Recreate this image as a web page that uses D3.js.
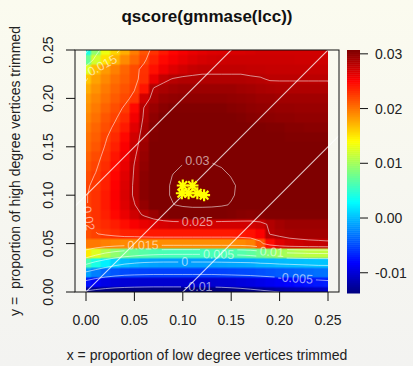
<!DOCTYPE html>
<html>
<head>
<meta charset="utf-8">
<script src="https://cdn.jsdelivr.net/npm/d3@7/dist/d3.min.js"></script>
<style>
  html, body { margin: 0; padding: 0; }
  body { width: 413px; height: 366px; overflow: hidden;
         background: linear-gradient(#fbfbef, #f3f3f1); }
  svg { display: block; font-family: "Liberation Sans", Arial, sans-serif; }
</style>
</head>
<body>
<svg id="chart" width="413" height="366"></svg>
<script>
// trimming proportions of the grid
const xs = [0.00, 0.01, 0.02, 0.03, 0.04, 0.05, 0.06, 0.07, 0.08, 0.09, 0.10, 0.11, 0.12,
            0.13, 0.14, 0.15, 0.16, 0.17, 0.18, 0.19, 0.20, 0.21, 0.22, 0.23, 0.24, 0.25];
const ys = [0.00, 0.01, 0.02, 0.03, 0.04, 0.05, 0.06, 0.07, 0.08, 0.09, 0.10, 0.11, 0.12,
            0.13, 0.14, 0.15, 0.16, 0.17, 0.18, 0.19, 0.20, 0.21, 0.22, 0.23, 0.24, 0.25];

// qscore in units of 1e-3, one row per y (y = 0 first), one column per x
const qscore = [
  [-10.5,-11.0,-11.3,-11.5,-11.6,-11.7,-11.7,-11.8,-11.8,-11.8,-11.8,-11.8,-11.8,-11.7,-11.6,-11.4,-11.2,-10.9,-10.6,-10.3,-10.0,-9.7,-9.4,-9.1,-8.9,-8.7],
  [-6.0,-7.0,-7.6,-8.0,-8.2,-8.3,-8.4,-8.4,-8.4,-8.4,-8.4,-8.4,-8.4,-8.4,-8.3,-8.2,-8.0,-7.8,-7.5,-7.2,-6.9,-6.6,-6.3,-6.0,-5.8,-5.6],
  [-0.5,-1.8,-2.8,-3.4,-3.8,-4.0,-4.1,-4.2,-4.2,-4.2,-4.2,-4.2,-4.2,-4.2,-4.1,-4.0,-3.9,-3.8,-3.6,-3.4,-3.2,-3.0,-2.8,-2.6,-2.4,-2.3],
  [6.0,4.0,2.5,1.3,0.5,0.1,-0.3,-0.5,-0.6,-0.6,-0.6,-0.6,-0.6,-0.6,-0.5,-0.4,-0.3,-0.2,0.1,0.2,0.4,0.5,0.6,0.7,0.8,0.8],
  [13.5,11.5,9.8,8.5,7.5,6.8,6.3,6.0,5.8,5.7,5.7,5.7,5.7,5.8,5.9,6.0,6.2,6.6,7.3,8.2,9.1,9.5,9.8,10.1,10.2,10.3],
  [17.8,17.8,17.5,17.3,17.1,17.0,17.0,17.0,17.0,17.0,17.0,17.0,17.0,17.0,17.0,17.0,17.1,17.5,19.1,22.0,23.5,24.1,24.3,24.5,24.6,24.7],
  [19.4,19.9,20.3,20.7,21.1,21.2,21.4,21.5,21.5,21.5,21.5,21.5,21.5,21.5,21.5,21.5,21.6,21.8,22.5,25.1,25.5,25.7,25.8,25.8,25.8,25.8],
  [19.8,20.4,20.8,21.3,21.9,22.6,23.2,23.6,23.9,24.1,24.1,24.1,24.1,24.1,24.1,24.1,24.1,24.1,24.4,25.3,25.8,26.1,26.1,26.1,26.1,26.1],
  [19.9,20.5,21.2,22.1,23.1,24.2,25.3,26.2,26.9,27.3,27.5,27.6,27.6,27.5,27.3,27.1,26.9,26.8,26.9,27.1,27.1,27.1,27.1,27.1,27.1,27.1],
  [19.9,20.5,21.4,22.4,23.6,24.9,26.4,27.6,28.8,29.9,30.5,30.8,30.8,30.7,30.4,29.8,29.1,28.3,28.1,28.1,28.1,28.0,28.0,27.9,27.9,27.9],
  [19.9,20.5,21.4,22.5,23.8,25.3,26.8,28.1,29.3,30.4,31.1,31.4,31.4,31.3,31.1,30.3,29.4,28.7,28.5,28.5,28.4,28.3,28.3,28.2,28.2,28.2],
  [19.8,20.3,21.2,22.4,23.7,25.3,26.8,28.1,29.3,30.4,31.1,31.4,31.4,31.3,31.1,30.4,29.5,28.8,28.6,28.5,28.4,28.3,28.3,28.3,28.3,28.3],
  [19.5,20.1,21.1,22.2,23.5,25.2,26.7,28.1,29.1,30.1,30.7,31.1,31.1,30.9,30.6,29.9,29.2,28.7,28.5,28.4,28.3,28.2,28.2,28.2,28.2,28.2],
  [19.1,19.8,20.7,21.9,23.2,25.1,26.5,27.8,28.8,29.6,30.1,30.3,30.3,30.2,29.9,29.4,28.8,28.5,28.3,28.2,28.1,28.0,28.0,27.9,27.9,27.9],
  [18.7,19.5,20.4,21.6,22.9,24.8,26.3,27.5,28.4,29.1,29.5,29.7,29.7,29.6,29.3,28.9,28.5,28.2,28.0,27.9,27.8,27.7,27.7,27.6,27.6,27.6],
  [18.3,19.1,20.1,21.2,22.5,24.4,26.1,27.2,28.1,28.6,29.1,29.2,29.2,29.1,28.9,28.5,28.1,27.9,27.7,27.6,27.5,27.4,27.4,27.3,27.3,27.3],
  [18.1,18.8,19.8,20.8,22.1,24.1,25.8,27.1,27.8,28.3,28.6,28.8,28.8,28.7,28.5,28.2,27.9,27.6,27.4,27.3,27.2,27.1,27.1,27.1,27.1,27.1],
  [17.7,18.5,19.4,20.3,21.4,23.5,25.6,26.9,27.6,28.1,28.2,28.3,28.3,28.2,28.1,27.8,27.6,27.4,27.2,27.1,27.1,26.9,26.9,26.8,26.8,26.8],
  [17.3,18.1,19.1,19.8,20.8,22.8,25.3,26.6,27.2,27.5,27.6,27.7,27.7,27.6,27.5,27.3,27.1,26.9,26.8,26.7,26.6,26.6,26.5,26.5,26.5,26.5],
  [16.9,17.7,18.6,19.4,20.2,22.1,25.1,26.2,26.8,27.1,27.1,27.1,27.1,27.1,27.1,26.9,26.8,26.6,26.5,26.4,26.3,26.3,26.2,26.2,26.2,26.2],
  [16.5,17.3,18.1,18.9,19.6,20.4,24.1,25.6,26.3,26.5,26.6,26.6,26.6,26.6,26.6,26.5,26.4,26.3,26.1,26.1,25.9,25.9,25.9,25.9,25.9,25.9],
  [15.8,16.8,17.7,18.5,19.2,19.9,21.6,25.2,25.6,25.9,26.1,26.1,26.1,26.1,26.1,26.1,25.9,25.8,25.6,25.5,25.4,25.4,25.4,25.4,25.4,25.4],
  [14.8,16.2,17.2,18.1,18.8,19.6,20.6,23.1,24.6,25.1,25.3,25.3,25.3,25.3,25.3,25.3,25.3,25.2,25.1,24.9,24.9,24.9,24.9,24.9,24.9,24.9],
  [11.5,15.1,16.5,17.5,18.5,19.5,20.5,21.8,22.9,23.6,24.1,24.5,24.7,24.7,24.7,24.7,24.7,24.6,24.6,24.5,24.5,24.5,24.5,24.5,24.5,24.5],
  [7.0,11.0,13.8,15.6,17.1,18.4,19.7,21.1,22.1,22.7,23.2,23.6,23.9,24.1,24.2,24.3,24.3,24.3,24.3,24.3,24.3,24.3,24.2,24.2,24.2,24.2],
  [4.0,8.5,12.1,14.3,15.8,17.6,19.2,20.5,21.5,22.2,22.7,23.1,23.4,23.6,23.7,23.8,23.8,23.9,24.1,24.1,24.1,24.1,24.1,24.1,24.1,24.1]
];

const levels = [-0.01, -0.005, 0, 0.005, 0.01, 0.015, 0.02, 0.025, 0.03];
const xTicks = [0, 0.05, 0.10, 0.15, 0.20, 0.25];
const yTicks = [0, 0.05, 0.10, 0.15, 0.20, 0.25];
const keyTicks = [-0.01, 0.00, 0.01, 0.02, 0.03];
const keyRange = [-0.0137, 0.0307];
const heatRange = [-0.0115, 0.0272];
const diagIntercepts = [-0.1, 0, 0.1];

// best (x, y) pairs, drawn as yellow stars
const bestX = [0.100, 0.110, 0.099, 0.106, 0.115, 0.122];
const bestY = [0.110, 0.110, 0.102, 0.102, 0.102, 0.100];

// where each contour label sits: level, x, y
const labelSpots = [
  [0.03, 0.115, 0.131], [0.025, 0.115, 0.074], [0.02, 0.002, 0.076],
  [0.015, 0.020, 0.228], [0.015, 0.059, 0.046], [0.01, 0.192, 0.042],
  [0.005, 0.137, 0.040], [0, 0.102, 0.032], [-0.005, 0.216, 0.012],
  [-0.01, 0.116, 0.004]
];

const jet = ["#00007F", "#0000FF", "#007FFF", "#00FFFF", "#7FFF7F",
             "#FFFF00", "#FF7F00", "#FF0000", "#7F0000"];

const box = {left: 75, right: 339, top: 50, bottom: 292};
const x = d3.scaleLinear().domain([0, 0.25]).range([86, 328]);
const y = d3.scaleLinear().domain([0, 0.25]).range([292, 50]);
const key = d3.scaleLinear().domain(keyRange).range([293, 50]);
const jetScale = range => d3.scaleLinear()
    .domain(jet.map((_, i) => range[0] + i * (range[1] - range[0]) / (jet.length - 1)))
    .range(jet).clamp(true);
const color = jetScale(keyRange);
const heatColor = jetScale(heatRange);
const fmt = v => d3.format(".2f")(v).replace("\u2212", "-");

const svg = d3.select("#chart");
const defs = svg.append("defs");

defs.append("clipPath").attr("id", "heat-clip").append("rect")
    .attr("x", x(0)).attr("y", y(0.25))
    .attr("width", x(0.25) - x(0)).attr("height", y(0) - y(0.25));
defs.append("clipPath").attr("id", "box-clip").append("rect")
    .attr("x", box.left).attr("y", box.top)
    .attr("width", box.right - box.left).attr("height", box.bottom - box.top);

// heat map: cells painted on a small canvas, stretched (smoothly) over the grid
const nx = xs.length, ny = ys.length;
const hx = (xs[1] - xs[0]) / 2, hy = (ys[1] - ys[0]) / 2;
const cell = 4;
const cv = document.createElement("canvas");
cv.width = nx * cell; cv.height = ny * cell;
const ctx = cv.getContext("2d");
qscore.forEach((row, j) => row.forEach((v, i) => {
  ctx.fillStyle = heatColor(v / 1000);
  ctx.fillRect(i * cell, (ny - 1 - j) * cell, cell, cell);
}));
svg.append("image")
    .attr("href", cv.toDataURL())
    .attr("x", x(xs[0] - hx)).attr("y", y(ys[ny - 1] + hy))
    .attr("width", x(xs[nx - 1] + hx) - x(xs[0] - hx))
    .attr("height", y(ys[0] - hy) - y(ys[ny - 1] + hy))
    .attr("preserveAspectRatio", "none")
    .attr("clip-path", "url(#heat-clip)");

// contour lines
const thresholds = levels.map(v => +(v * 1000).toFixed(1));
const bands = d3.contours().size([nx, ny]).thresholds(thresholds)(qscore.flat());
const gx = g => x(xs[0] + (g - 0.5) * (xs[1] - xs[0]));
const gy = g => y(ys[0] + (g - 0.5) * (ys[1] - ys[0]));
const rings = [];
bands.forEach(b => {
  const level = levels[thresholds.indexOf(b.value)];
  b.coordinates.forEach(poly => poly.forEach(ring => {
    rings.push({level, pts: ring.map(([a, c]) => [gx(a), gy(c)])});
  }));
});

const mask = defs.append("mask").attr("id", "label-gaps")
    .attr("maskUnits", "userSpaceOnUse")
    .attr("x", 0).attr("y", 0).attr("width", 413).attr("height", 366);
mask.append("rect").attr("width", 413).attr("height", 366).attr("fill", "white");

svg.append("g")
    .attr("clip-path", "url(#heat-clip)")
    .append("g")
    .attr("mask", "url(#label-gaps)")
    .attr("fill", "none")
    .attr("stroke", "rgba(255,255,255,0.55)")
    .attr("stroke-width", 1)
  .selectAll("path")
  .data(rings)
  .join("path")
    .attr("d", d => d3.line()(d.pts));

// contour labels, placed on the nearest piece of their line and turned with it
const inside = (p) => p[0] > x(0) + 1 && p[0] < x(0.25) - 1 && p[1] > y(0.25) + 1 && p[1] < y(0) - 1;
const labelG = svg.append("g")
    .attr("fill", "rgba(255,255,255,0.6)")
    .attr("font-size", 12.5)
    .attr("text-anchor", "middle")
    .attr("dominant-baseline", "central");
labelSpots.forEach(([level, lx, ly]) => {
  const t = [x(lx), y(ly)];
  let best = null;
  rings.filter(r => r.level === level).forEach(r => {
    for (let i = 0; i < r.pts.length - 1; i++) {
      const a = r.pts[i], b = r.pts[i + 1];
      const dx = b[0] - a[0], dy = b[1] - a[1];
      const L2 = dx * dx + dy * dy;
      if (!L2) continue;
      const u = Math.max(0, Math.min(1, ((t[0] - a[0]) * dx + (t[1] - a[1]) * dy) / L2));
      const p = [a[0] + u * dx, a[1] + u * dy];
      if (!inside(p)) continue;
      const d = Math.hypot(p[0] - t[0], p[1] - t[1]);
      if (!best || d < best.d) best = {d, p, ang: Math.atan2(dy, dx) * 180 / Math.PI};
    }
  });
  if (!best) return;
  let ang = best.ang;
  if (ang >= 90) ang -= 180;
  if (ang < -90) ang += 180;
  const tr = `translate(${best.p[0]},${best.p[1]}) rotate(${ang})`;
  const txt = labelG.append("text").attr("transform", tr).text(String(level));
  const w = txt.node().getComputedTextLength() + 6;
  mask.append("rect").attr("transform", tr)
      .attr("x", -w / 2).attr("y", -6).attr("width", w).attr("height", 12)
      .attr("fill", "black");
});

// diagonal reference lines y = x + c
svg.append("g")
    .attr("clip-path", "url(#box-clip)")
    .attr("stroke", "rgba(255,255,255,0.78)")
    .attr("stroke-width", 1.1)
  .selectAll("line")
  .data(diagIntercepts)
  .join("line")
    .attr("x1", x(-0.05)).attr("y1", c => y(-0.05 + c))
    .attr("x2", x(0.3)).attr("y2", c => y(0.3 + c));

// yellow stars
svg.append("g")
    .attr("stroke", "#ffff00")
    .attr("stroke-width", 2.2)
    .attr("fill", "none")
  .selectAll("path")
  .data(bestX.map((v, i) => [v, bestY[i]]))
  .join("path")
    .attr("transform", d => `translate(${x(d[0])},${y(d[1])})`)
    .attr("d", "M-6,0H6M0,-6V6M-4.3,-4.3L4.3,4.3M-4.3,4.3L4.3,-4.3");

// frame and axes
svg.append("rect")
    .attr("x", box.left).attr("y", box.top)
    .attr("width", box.right - box.left).attr("height", box.bottom - box.top)
    .attr("fill", "none").attr("stroke", "#111").attr("stroke-width", 1);

const axisG = svg.append("g").attr("stroke", "#111").attr("stroke-width", 1);
axisG.selectAll("line.xt").data(xTicks).join("line").attr("class", "xt")
    .attr("x1", d => x(d)).attr("x2", d => x(d))
    .attr("y1", box.bottom).attr("y2", box.bottom + 9);
axisG.selectAll("line.yt").data(yTicks).join("line").attr("class", "yt")
    .attr("y1", d => y(d)).attr("y2", d => y(d))
    .attr("x1", box.left).attr("x2", box.left - 9);

const textG = svg.append("g").attr("fill", "#222").attr("font-size", 14);
textG.selectAll("text.xl").data(xTicks).join("text").attr("class", "xl")
    .attr("x", d => x(d)).attr("y", 325)
    .attr("text-anchor", "middle")
    .text(fmt);
textG.selectAll("text.yl").data(yTicks).join("text").attr("class", "yl")
    .attr("transform", d => `translate(53,${y(d)}) rotate(-90)`)
    .attr("text-anchor", "middle")
    .text(fmt);

textG.append("text")
    .attr("x", (box.left + box.right) / 2).attr("y", 360)
    .attr("text-anchor", "middle")
    .text("x = proportion of low degree vertices trimmed");
textG.append("text")
    .attr("transform", `translate(20,${(box.top + box.bottom) / 2}) rotate(-90)`)
    .attr("text-anchor", "middle")
    .style("white-space", "pre")
    .text("y =  proportion of high degree vertices trimmed");
textG.append("text")
    .attr("x", (box.left + box.right) / 2).attr("y", 22)
    .attr("text-anchor", "middle")
    .attr("font-size", 17).attr("font-weight", "bold")
    .attr("fill", "#111")
    .text("qscore(gmmase(lcc))");

// colour key
const keyX = 347, keyW = 13, nSlices = 120;
const slice = (keyRange[1] - keyRange[0]) / nSlices;
svg.append("g").selectAll("rect")
  .data(d3.range(nSlices).map(i => keyRange[0] + (i + 0.5) * slice))
  .join("rect")
    .attr("x", keyX).attr("width", keyW)
    .attr("y", v => key(v + slice / 2))
    .attr("height", v => key(v - slice / 2) - key(v + slice / 2) + 0.5)
    .attr("fill", v => color(v));
axisG.selectAll("line.kt").data(keyTicks).join("line").attr("class", "kt")
    .attr("x1", keyX + keyW).attr("x2", keyX + keyW + 8)
    .attr("y1", d => key(d)).attr("y2", d => key(d));
textG.selectAll("text.kl").data(keyTicks).join("text").attr("class", "kl")
    .attr("x", 375).attr("y", d => key(d) + 5)
    .text(fmt);
</script>
</body>
</html>
